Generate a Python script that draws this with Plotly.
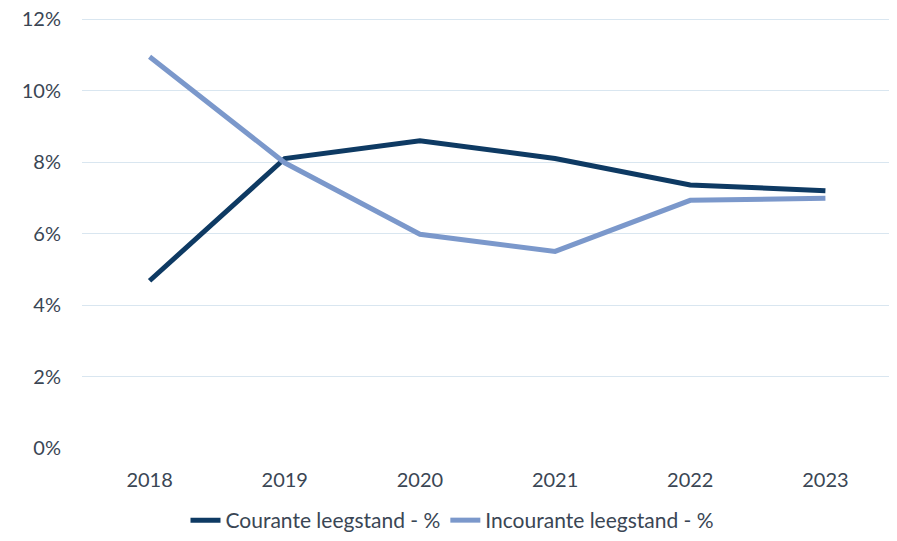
import plotly.graph_objects as go

years = ["2018", "2019", "2020", "2021", "2022", "2023"]
courante = [4.68, 8.1, 8.6, 8.1, 7.36, 7.2]
incourante = [10.95, 7.98, 5.98, 5.5, 6.93, 6.99]
y_ticks = [0, 2, 4, 6, 8, 10, 12]
y_labels = [f"{v}%" for v in y_ticks]

fig = go.Figure()
fig.add_trace(go.Scatter(x=years, y=courante, mode="lines", name="Courante leegstand - %",
                         line=dict(color="#0e3a63", width=5)))
fig.add_trace(go.Scatter(x=years, y=incourante, mode="lines", name="Incourante leegstand - %",
                         line=dict(color="#7b98cb", width=5)))

fig.update_layout(
    width=889, height=533,
    margin=dict(l=74, r=4, t=9, b=93, autoexpand=False),
    paper_bgcolor="white", plot_bgcolor="white",
    font=dict(family="Lato, Liberation Sans, sans-serif", size=20, color="#3a4654"),
    xaxis=dict(type="category", range=[-0.5, 5.5], showgrid=False, showline=False, ticks="",
               tickfont=dict(size=20), ticklabelstandoff=18, automargin=False),
    yaxis=dict(range=[0, 12.06], tickvals=y_ticks, ticktext=y_labels, showgrid=True,
               gridcolor="#d9e6f0", gridwidth=1, zeroline=False, showline=False,
               tickfont=dict(size=20), ticklabelstandoff=20, automargin=False,
               ticklabeloverflow="allow"),
    legend=dict(orientation="h", x=0.5, xanchor="center", xref="container",
                y=0.0, yanchor="bottom", yref="container",
                font=dict(size=21), tracegroupgap=0),
    showlegend=True,
)

fig.write_html("out.html")
